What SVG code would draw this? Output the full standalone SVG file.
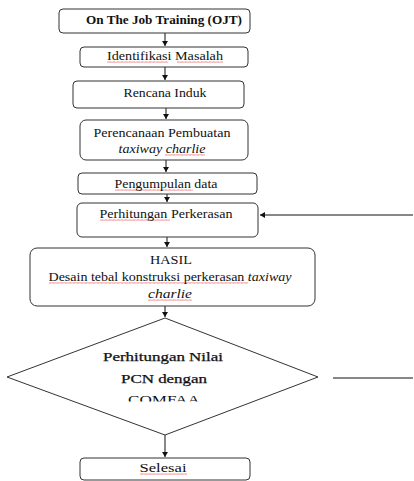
<svg xmlns="http://www.w3.org/2000/svg" width="414" height="481" viewBox="0 0 414 481">
<style>
.box{fill:#fff;stroke:#333;stroke-width:1}
.t{font-family:'Liberation Serif','Times New Roman',serif;font-size:12px;fill:#111;text-anchor:middle}
.b{font-weight:bold}
.i{font-style:italic}
.d{font-size:12px;stroke:#111;stroke-width:0.25}
.c{stroke:#111;stroke-width:1;fill:none}
.sq{fill:url(#squig)}
</style>
<defs>
<marker id="ah" markerWidth="6" markerHeight="6" refX="5" refY="3" orient="auto" markerUnits="userSpaceOnUse">
<path d="M0,0 L5,3 L0,6 z" fill="#111"/>
</marker>
<pattern id="squig" width="4" height="2" patternUnits="userSpaceOnUse">
<path d="M0,1.5 L1,0.5 L2,1.5 L3,0.5 L4,1.5" stroke="#d22" stroke-width="0.6" fill="none"/>
</pattern>
<clipPath id="dclip"><rect x="0" y="340" width="414" height="61.5"/></clipPath>
</defs>
<rect width="414" height="481" fill="#fff"/>

<g id="connectors">
<line class="c" x1="165" y1="33" x2="165" y2="46" marker-end="url(#ah)"/>
<line class="c" x1="165" y1="67" x2="165" y2="80" marker-end="url(#ah)"/>
<line class="c" x1="166" y1="108" x2="166" y2="119" marker-end="url(#ah)"/>
<line class="c" x1="166" y1="160" x2="166" y2="172" marker-end="url(#ah)"/>
<line class="c" x1="167" y1="194" x2="167" y2="202" marker-end="url(#ah)"/>
<line class="c" x1="167" y1="237" x2="167" y2="247" marker-end="url(#ah)"/>
<line class="c" x1="165" y1="306" x2="165" y2="317" marker-end="url(#ah)"/>
<line class="c" x1="165" y1="435" x2="165" y2="457" marker-end="url(#ah)"/>
<line class="c" x1="413" y1="215" x2="260" y2="215" marker-end="url(#ah)"/>
<line class="c" x1="333" y1="378" x2="413" y2="378"/>
</g>

<g id="ojt">
<rect class="box" x="59" y="9" width="191" height="24" rx="4"/>
<text class="t b" x="164" y="24" textLength="156" lengthAdjust="spacingAndGlyphs">On The Job Training (OJT)</text>
</g>

<g id="identifikasi">
<rect class="box" x="80" y="47" width="168" height="20" rx="4"/>
<rect class="sq" x="107" y="61" width="61" height="2"/>
<rect class="sq" x="177" y="61" width="46" height="2"/>
<text class="t" x="165" y="60" textLength="116" lengthAdjust="spacingAndGlyphs">Identifikasi Masalah</text>
</g>

<g id="rencana">
<rect class="box" x="73" y="81" width="171" height="27" rx="4"/>
<text class="t" x="165" y="97" textLength="83" lengthAdjust="spacingAndGlyphs">Rencana Induk</text>
</g>

<g id="perencanaan">
<rect class="box" x="80" y="120" width="168" height="40" rx="6"/>
<rect class="sq" x="165" y="154" width="40" height="2"/>
<text class="t" x="162" y="137" textLength="137" lengthAdjust="spacingAndGlyphs">Perencanaan Pembuatan</text>
<text class="t i" x="162" y="153" textLength="87" lengthAdjust="spacingAndGlyphs">taxiway charlie</text>
</g>

<g id="pengumpulan">
<rect class="box" x="78" y="173" width="179" height="21" rx="4"/>
<rect class="sq" x="115" y="189" width="78" height="2"/>
<text class="t" x="166" y="188" textLength="103" lengthAdjust="spacingAndGlyphs">Pengumpulan data</text>
</g>

<g id="perhitungan">
<rect class="box" x="77" y="203" width="181" height="34" rx="5"/>
<rect class="sq" x="100" y="219" width="70" height="2"/>
<text class="t" x="166" y="218" textLength="133" lengthAdjust="spacingAndGlyphs">Perhitungan Perkerasan</text>
</g>

<g id="hasil">
<rect class="box" x="30" y="248" width="285" height="58" rx="7"/>
<rect class="sq" x="49" y="282" width="199" height="2"/>
<rect class="sq" x="148" y="299" width="44" height="2"/>
<text class="t" x="171" y="264" textLength="42" lengthAdjust="spacingAndGlyphs">HASIL</text>
<text class="t" x="170" y="281" textLength="243" lengthAdjust="spacingAndGlyphs">Desain tebal konstruksi perkerasan <tspan class="i">taxiway</tspan></text>
<text class="t i" x="170" y="298" textLength="44" lengthAdjust="spacingAndGlyphs">charlie</text>
</g>

<g id="pcn">
<polygon class="box" points="165,318 318,377 165,435 7,377"/>
<g clip-path="url(#dclip)">
<text class="t d" x="163" y="361" textLength="120" lengthAdjust="spacingAndGlyphs">Perhitungan Nilai</text>
<text class="t d" x="164" y="383" textLength="86" lengthAdjust="spacingAndGlyphs">PCN dengan</text>
<text class="t" x="164" y="404" textLength="72" lengthAdjust="spacingAndGlyphs">COMFAA</text>
</g>
</g>

<g id="selesai">
<rect class="box" x="80" y="458" width="170" height="22" rx="4"/>
<rect class="sq" x="140" y="473" width="47" height="2"/>
<text class="t" x="163" y="472" textLength="47" lengthAdjust="spacingAndGlyphs">Selesai</text>
</g>
</svg>
